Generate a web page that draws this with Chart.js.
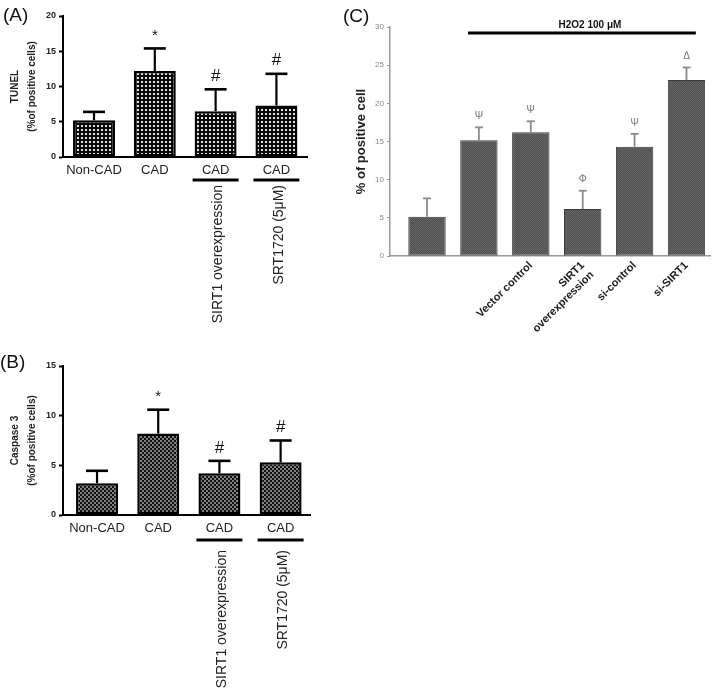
<!DOCTYPE html>
<html><head><meta charset="utf-8">
<script src="https://cdn.jsdelivr.net/npm/chart.js@4.4.1/dist/chart.umd.min.js"></script>
<style>
html,body{margin:0;padding:0;background:#fff;width:714px;height:694px;overflow:hidden;font-family:'Liberation Sans',Arial,sans-serif}
.p{position:absolute}
.lab{position:absolute;font-size:19px;color:#111;line-height:1}
canvas{display:block}
</style></head><body>
<div class="p" style="left:0;top:0;width:330px;height:355px"><canvas id="ca" width="330" height="355" style="width:330px;height:355px"></canvas></div>
<div class="p" style="left:0;top:340px;width:330px;height:354px"><canvas id="cb" width="330" height="354" style="width:330px;height:354px"></canvas></div>
<div class="p" style="left:340px;top:0;width:374px;height:380px"><canvas id="cc" width="374" height="380" style="width:374px;height:380px"></canvas></div>
<div class="lab" style="left:3px;top:5px">(A)</div>
<div class="lab" style="left:0px;top:352px">(B)</div>
<div class="lab" style="left:343px;top:6px">(C)</div>
<script>
// ---------- data ----------
const aCategories = ['Non-CAD', 'CAD', 'CAD', 'CAD'];
const aValues = [5.2, 12.2, 6.5, 7.3];
const aErrors = [1.2, 3.2, 3.1, 4.5];
const aMarks = ['', '*', '#', '#'];
const aNotes = ['', '', 'SIRT1 overexpression', 'SRT1720 (5\u03bcM)'];
const aYTicks = [0, 5, 10, 15, 20];
const aTitle = ['TUNEL', '(%of positive cells)'];

const bCategories = ['Non-CAD', 'CAD', 'CAD', 'CAD'];
const bValues = [3.2, 8.2, 4.2, 5.3];
const bErrors = [1.25, 2.4, 1.25, 2.2];
const bMarks = ['', '*', '#', '#'];
const bNotes = ['', '', 'SIRT1 overexpression', 'SRT1720 (5\u03bcM)'];
const bYTicks = [0, 5, 10, 15];
const bTitle = ['Caspase 3', '(%of positive cells)'];

const cCategories = ['', '', 'Vector control', ['SIRT1', 'overexpression'], 'si-control', 'si-SIRT1'];
const cValues = [5.15, 15.15, 16.2, 6.15, 14.3, 23.05];
const cErrors = [2.4, 1.7, 1.45, 2.4, 1.7, 1.65];
const cMarks = ['', '\u03a8', '\u03a8', '\u03a6', '\u03a8', '\u0394'];
const cYTicks = [0, 5, 10, 15, 20, 25, 30];
const cTitle = '% of positive cell';
const cGroupLabel = 'H2O2 100 \u03bcM';

const FONT = "'Liberation Sans', Arial, sans-serif";
Chart.defaults.font.family = FONT;
Chart.defaults.animation = false;

function makePattern(canvas, size, bg, fg, dots) {
  const t = document.createElement('canvas');
  t.width = t.height = size;
  const g = t.getContext('2d');
  g.fillStyle = bg; g.fillRect(0, 0, size, size);
  g.fillStyle = fg;
  dots.forEach(d => g.fillRect(d[0], d[1], d[2], d[2]));
  return canvas.getContext('2d').createPattern(t, 'repeat');
}

function errPlugin(values, errors, marks, st) {
  return {
    id: 'errbars',
    afterDatasetsDraw(chart) {
      const ctx = chart.ctx, y = chart.scales.y;
      const meta = chart.getDatasetMeta(0);
      ctx.save();
      meta.data.forEach((el, i) => {
        const top = y.getPixelForValue(values[i] + errors[i]);
        ctx.strokeStyle = st.color;
        ctx.lineWidth = st.lw;
        ctx.beginPath(); ctx.moveTo(el.x, el.y); ctx.lineTo(el.x, top); ctx.stroke();
        ctx.lineWidth = st.capW;
        ctx.beginPath(); ctx.moveTo(el.x - st.cap, top); ctx.lineTo(el.x + st.cap, top); ctx.stroke();
        if (marks[i]) {
          ctx.fillStyle = st.markColor;
          ctx.font = (marks[i] === '*' ? st.starFont : st.markFont);
          ctx.textAlign = 'center'; ctx.textBaseline = 'middle';
          ctx.fillText(marks[i], el.x, top - st.gap);
        }
      });
      ctx.restore();
    }
  };
}

function notePlugin(notes, lineY, textY) {
  return {
    id: 'notes',
    afterDraw(chart) {
      const ctx = chart.ctx;
      const meta = chart.getDatasetMeta(0);
      ctx.save();
      meta.data.forEach((el, i) => {
        if (!notes[i]) return;
        ctx.strokeStyle = '#000'; ctx.lineWidth = 3;
        ctx.beginPath(); ctx.moveTo(el.x - el.width / 2 - 2, lineY); ctx.lineTo(el.x + el.width / 2 + 2, lineY); ctx.stroke();
        ctx.save();
        ctx.translate(el.x + 3, textY);
        ctx.rotate(-Math.PI / 2);
        ctx.fillStyle = '#222';
        ctx.font = '14px ' + FONT;
        ctx.textAlign = 'right'; ctx.textBaseline = 'middle';
        ctx.fillText(notes[i], 0, 0);
        ctx.restore();
      });
      ctx.restore();
    }
  };
}

function panelAB(id, cats, vals, errs, marks, notes, yTicks, title, geo, pattern) {
  const cv = document.getElementById(id);
  return new Chart(cv, {
    type: 'bar',
    data: { datasets: [{
      data: vals.map((v, i) => ({ x: i, y: v })),
      backgroundColor: pattern(cv),
      borderColor: '#000', borderWidth: 2.5, borderSkipped: false,
      categoryPercentage: 1, barPercentage: geo.barPct
    }] },
    options: {
      responsive: false, animation: false,
      layout: { padding: { left: 0, right: geo.padRight, top: geo.padTop, bottom: 0 } },
      plugins: { legend: { display: false }, tooltip: { enabled: false } },
      scales: {
        x: {
          type: 'linear', min: geo.xmin, max: geo.xmax, offset: false,
          afterFit: s => { s.height = geo.xh; s.paddingLeft = 0; s.paddingRight = 0; },
          grid: { display: false, drawTicks: false, offset: false },
          border: { display: true, color: '#000', width: 2 },
          ticks: { stepSize: 1, includeBounds: false, autoSkip: false, maxRotation: 0, minRotation: 0, padding: 6,
            color: '#222', font: { size: 13 },
            callback: v => (Number.isInteger(v) && cats[v] !== undefined) ? cats[v] : '' }
        },
        y: {
          min: yTicks[0], max: yTicks[yTicks.length - 1],
          afterFit: s => { s.width = geo.yw; },
          afterBuildTicks: s => { s.ticks = yTicks.map(v => ({ value: v })); },
          grid: { drawOnChartArea: false, drawTicks: true, tickLength: 4, color: '#000', tickWidth: 2 },
          border: { display: true, color: '#000', width: 2 },
          ticks: { padding: 3, color: '#222', font: { size: 9, weight: 'bold' } },
          title: { display: true, text: title, color: '#222', font: { size: 10, weight: 'bold', lineHeight: 1.7 }, padding: { top: 6.5, bottom: 0 } }
        }
      }
    },
    plugins: [
      errPlugin(vals, errs, marks, { color: '#000', lw: 2.2, capW: 2.6, cap: 11, markColor: '#111', markFont: '17px ' + FONT, starFont: '15px ' + FONT, gap: 13 }),
      notePlugin(notes, geo.lineY, geo.textY)
    ]
  });
}

panelAB('ca', aCategories, aValues, aErrors, aMarks, aNotes, aYTicks, aTitle,
  { barPct: 0.69, padRight: 23, padTop: 16, xh: 198, yw: 63, xmin: -0.51, xmax: 3.503, lineY: 180, textY: 185 },
  cv => makePattern(cv, 4, '#0a0a0a', '#e0e0e0', [[1, 1, 2]]));

panelAB('cb', bCategories, bValues, bErrors, bMarks, bNotes, bYTicks, bTitle,
  { barPct: 0.686, padRight: 20, padTop: 26, xh: 179, yw: 63, xmin: -0.556, xmax: 3.48, lineY: 200, textY: 210 },
  cv => makePattern(cv, 4, '#111', '#808080', [[0, 0, 2], [2, 2, 2]]));

// ---------- panel C ----------
(function () {
  const cv = document.getElementById('cc');
  const groupPlugin = {
    id: 'group',
    afterDraw(chart) {
      const ctx = chart.ctx, x = chart.scales.x, top = chart.chartArea.top;
      ctx.save();
      ctx.strokeStyle = '#000'; ctx.lineWidth = 3;
      ctx.beginPath(); ctx.moveTo(x.getPixelForValue(0.79), top + 6); ctx.lineTo(x.getPixelForValue(5.18), top + 6); ctx.stroke();
      ctx.fillStyle = '#111'; ctx.font = 'bold 10px ' + FONT;
      ctx.textAlign = 'center'; ctx.textBaseline = 'middle';
      ctx.fillText(cGroupLabel, x.getPixelForValue(3.14), top - 2);
      ctx.restore();
    }
  };
  new Chart(cv, {
    type: 'bar',
    data: { datasets: [{
      data: cValues.map((v, i) => ({ x: i, y: v })),
      backgroundColor: makePattern(cv, 2, '#525252', '#636363', [[0, 0, 1], [1, 1, 1]]),
      borderColor: '#3a3a3a', borderWidth: 1, borderSkipped: false,
      categoryPercentage: 1, barPercentage: 0.72
    }] },
    options: {
      responsive: false, animation: false,
      layout: { padding: { left: 0, right: 4, top: 27, bottom: 0 } },
      plugins: { legend: { display: false }, tooltip: { enabled: false } },
      scales: {
        x: {
          type: 'linear', min: -0.713, max: 5.453, offset: false,
          afterFit: s => { s.height = 124; s.paddingLeft = 0; s.paddingRight = 0; },
          grid: { display: false, drawTicks: false, offset: false },
          border: { display: true, color: '#9a9a9a', width: 1.5 },
          ticks: { stepSize: 1, includeBounds: false, autoSkip: false, maxRotation: 45, minRotation: 45, padding: 3,
            color: '#222', font: { size: 11, weight: 'bold' },
            callback: v => (Number.isInteger(v) && cCategories[v] !== undefined) ? cCategories[v] : '' }
        },
        y: {
          min: cYTicks[0], max: cYTicks[cYTicks.length - 1],
          afterFit: s => { s.width = 50; },
          afterBuildTicks: s => { s.ticks = cYTicks.map(v => ({ value: v })); },
          grid: { drawOnChartArea: false, drawTicks: true, tickLength: 3, color: '#9a9a9a', tickWidth: 1.2 },
          border: { display: true, color: '#9a9a9a', width: 1.5 },
          ticks: { padding: 3, color: '#888', font: { size: 8 } },
          title: { display: true, text: cTitle, color: '#222', font: { size: 13, weight: 'bold' }, padding: { top: 14, bottom: 0 } }
        }
      }
    },
    plugins: [
      errPlugin(cValues, cErrors, cMarks, { color: '#8a8a8a', lw: 1.8, capW: 1.8, cap: 4, markColor: '#777', markFont: '10px ' + FONT, starFont: '10px ' + FONT, gap: 11 }),
      groupPlugin
    ]
  });
})();
</script>
</body></html>
